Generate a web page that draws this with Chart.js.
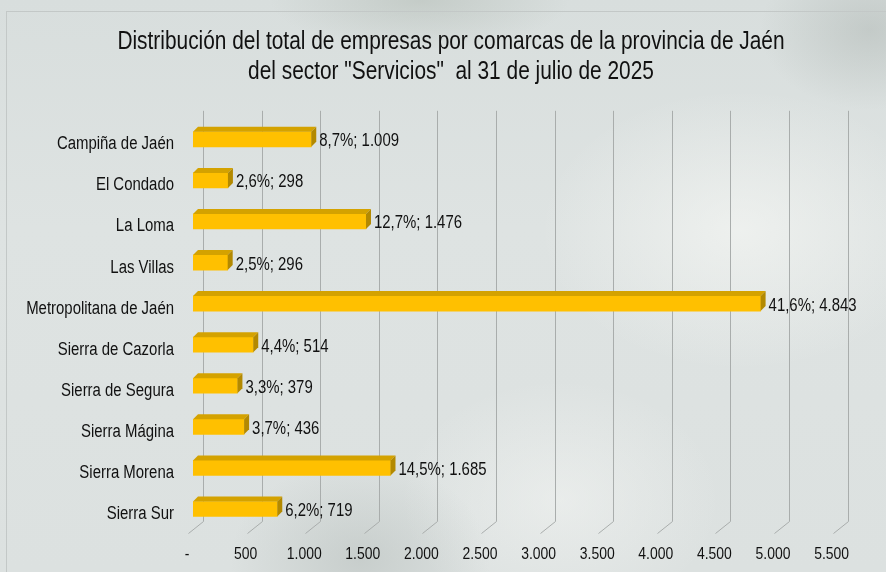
<!DOCTYPE html>
<html>
<head>
<meta charset="utf-8">
<script src="https://cdn.jsdelivr.net/npm/chart.js@4/dist/chart.umd.min.js"></script>
<style>
  html, body { margin: 0; padding: 0; }
  body {
    width: 886px; height: 572px; overflow: hidden; position: relative;
    background:
      radial-gradient(ellipse 110px 80px at 870px 30px, rgba(170,178,174,0.45), rgba(170,178,174,0) 100%),
      radial-gradient(ellipse 130px 100px at 360px 560px, rgba(175,183,180,0.45), rgba(175,183,180,0) 100%),
      radial-gradient(ellipse 200px 140px at 740px 230px, rgba(248,249,246,0.6), rgba(248,249,246,0) 100%),
      radial-gradient(ellipse 160px 120px at 560px 500px, rgba(246,247,245,0.5), rgba(246,247,245,0) 100%),
      radial-gradient(ellipse 150px 50px at 420px 0px, rgba(160,170,160,0.35), rgba(160,170,160,0) 100%),
      linear-gradient(180deg, #d8dedd 0%, #dee3e2 40%, #dce1e0 100%);
  }
  #frame { position: absolute; left: 6px; top: 11px; width: 900px; height: 600px; border: 1px solid #c3c8c7; box-sizing: border-box; }
  canvas { position: absolute; left: 0; top: 0; }
</style>
</head>
<body>
<div id="frame"></div>
<canvas id="c" width="886" height="572"></canvas>
<script>
// ---- data ----
const categories = ["Campiña de Jaén", "El Condado", "La Loma", "Las Villas", "Metropolitana de Jaén",
  "Sierra de Cazorla", "Sierra de Segura", "Sierra Mágina", "Sierra Morena", "Sierra Sur"];
const companies = [1009, 298, 1476, 296, 4843, 514, 379, 436, 1685, 719];
const percentLabels = ["8,7%", "2,6%", "12,7%", "2,5%", "41,6%", "4,4%", "3,3%", "3,7%", "14,5%", "6,2%"];
const xTickValues = [0, 500, 1000, 1500, 2000, 2500, 3000, 3500, 4000, 4500, 5000, 5500];
const xTickLabels = ["-", "500", "1.000", "1.500", "2.000", "2.500", "3.000", "3.500", "4.000", "4.500", "5.000", "5.500"];
const titleLines = ["Distribución del total de empresas por comarcas de la provincia de Jaén",
  "del sector \"Servicios\"  al 31 de julio de 2025"];

const FONT = "'Liberation Sans', Arial, sans-serif";
function fmt(v) { return String(v).replace(/\B(?=(\d{3})+(?!\d))/g, "."); }

// draw text condensed horizontally (Arial Narrow look)
function narrowText(ctx, text, x, y, align, size, sx) {
  ctx.save();
  ctx.font = size + "px " + FONT;
  ctx.fillStyle = "#111";
  ctx.textAlign = align;
  ctx.textBaseline = "middle";
  ctx.translate(x, y);
  ctx.scale(sx, 1);
  ctx.fillText(text, 0, 0);
  ctx.restore();
}

// 3D geometry
const BAR_SHIFT = { x: 5, y: -4 };
const BAR_DEPTH = { x: 5, y: -5 };
const BACK = { x: 15, y: -12 };

const plot3d = {
  id: "plot3d",
  beforeDatasetsDraw(chart) {
    const ctx = chart.ctx, xs = chart.scales.x, ys = chart.scales.y, a = chart.chartArea;
    // title
    narrowText(ctx, titleLines[0], 451, 42, "center", 25, 0.835);
    narrowText(ctx, titleLines[1], 451, 72, "center", 25, 0.835);
    // category labels
    categories.forEach((c, i) => {
      narrowText(ctx, c, a.left - 14, ys.getPixelForValue(i) + 1, "right", 18, 0.83);
    });
    // x tick labels
    xTickValues.forEach((v, i) => {
      narrowText(ctx, xTickLabels[i], xs.getPixelForValue(v) - 1, 554, "center", 17, 0.82);
    });
    // 3D gridlines
    ctx.save();
    ctx.strokeStyle = "#a9adac";
    ctx.lineWidth = 1;
    xTickValues.forEach(v => {
      const xf = Math.round(xs.getPixelForValue(v)) + 0.5;
      ctx.beginPath();
      ctx.moveTo(xf + BACK.x, a.top + BACK.y);
      ctx.lineTo(xf + BACK.x, a.bottom + BACK.y);
      ctx.lineTo(xf, a.bottom);
      ctx.stroke();
    });
    ctx.restore();
    ctx.save();
    ctx.translate(BAR_SHIFT.x, BAR_SHIFT.y);
  },
  afterDatasetsDraw(chart) {
    const ctx = chart.ctx;
    const meta = chart.getDatasetMeta(0);
    meta.data.forEach(bar => {
      const p = bar.getProps(["x", "y", "base", "height"], true);
      const x0 = p.base, x1 = p.x, y0 = p.y - p.height / 2, y1 = p.y + p.height / 2;
      ctx.fillStyle = "#d4a200";
      ctx.beginPath();
      ctx.moveTo(x0, y0); ctx.lineTo(x1, y0);
      ctx.lineTo(x1 + BAR_DEPTH.x, y0 + BAR_DEPTH.y); ctx.lineTo(x0 + BAR_DEPTH.x, y0 + BAR_DEPTH.y);
      ctx.closePath(); ctx.fill();
      ctx.fillStyle = "#b38900";
      ctx.beginPath();
      ctx.moveTo(x1, y0); ctx.lineTo(x1 + BAR_DEPTH.x, y0 + BAR_DEPTH.y);
      ctx.lineTo(x1 + BAR_DEPTH.x, y1 + BAR_DEPTH.y); ctx.lineTo(x1, y1);
      ctx.closePath(); ctx.fill();
    });
    ctx.restore();
    // data labels
    meta.data.forEach((bar, i) => {
      const p = bar.getProps(["x", "y"], true);
      narrowText(ctx, percentLabels[i] + "; " + fmt(companies[i]),
        p.x + BAR_SHIFT.x + BAR_DEPTH.x + 3, p.y + BAR_SHIFT.y + 2, "left", 18, 0.83);
    });
  }
};

new Chart(document.getElementById("c"), {
  type: "bar",
  data: {
    labels: categories,
    datasets: [{
      data: companies,
      backgroundColor: "#ffc000",
      borderWidth: 0,
      barThickness: 15
    }]
  },
  options: {
    indexAxis: "y",
    responsive: false,
    animation: false,
    layout: { padding: { left: 0, right: 53.4, top: 122.8, bottom: 0 } },
    plugins: {
      legend: { display: false },
      tooltip: { enabled: false },
      title: { display: false }
    },
    scales: {
      x: {
        type: "linear",
        min: 0, max: 5500,
        afterBuildTicks(s) { s.ticks = xTickValues.map(v => ({ value: v })); },
        afterFit(s) { s.height = 38.5; },
        grid: { display: false, drawTicks: false },
        border: { display: false },
        ticks: { display: false }
      },
      y: {
        afterFit(s) { s.width = 188; },
        grid: { display: false, drawTicks: false },
        border: { display: false },
        ticks: { display: false }
      }
    }
  },
  plugins: [plot3d]
});
</script>
</body>
</html>
